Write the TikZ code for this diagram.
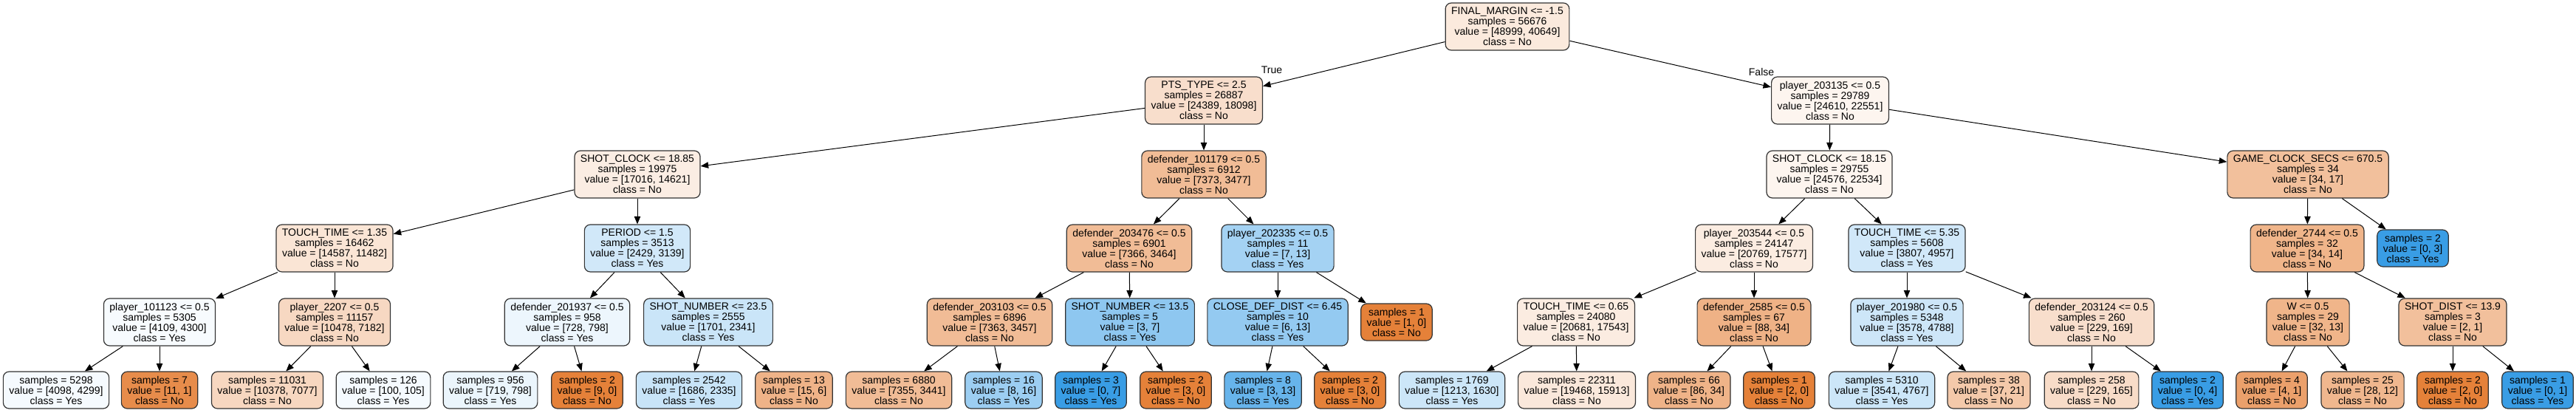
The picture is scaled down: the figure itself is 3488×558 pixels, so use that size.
\documentclass[tikz,border=0pt]{standalone}
\usepackage{fontspec}
\newfontfamily\hv{Liberation Sans}
\usetikzlibrary{arrows.meta}
\definecolor{cno}{RGB}{229,129,57}
\definecolor{cyes}{RGB}{57,157,229}
\tikzset{
  tn/.style={draw=black!80, line width=1.2pt, rounded corners=8pt, align=center,
    inner xsep=8pt, inner ysep=0pt, font=\hv\fontsize{14}{14}\selectfont},
  inode/.style={tn, minimum height=64pt},
  lnode/.style={tn, minimum height=50pt},
  N/.style={fill=cno!#1!white},
  Y/.style={fill=cyes!#1!white},
  conn/.style={-{Triangle[length=10.5pt,width=8.4pt]}, line width=1pt, black},
  lbl/.style={font=\hv\fontsize{14}{14}\selectfont, inner sep=0pt}
}
\begin{document}
\begin{tikzpicture}[x=1pt,y=-1pt]
\fill[white] (0,0) rectangle (3488,558);
\useasboundingbox (0,0) rectangle (3488,558);
% level 0
\node[inode,N=17] (n0) at (2041,36) {FINAL\_MARGIN <= -1.5\\samples = 56676\\value = [48999, 40649]\\class = No};
% level 1
\node[inode,N=26] (n1) at (1630,136) {PTS\_TYPE <= 2.5\\samples = 26887\\value = [24389, 18098]\\class = No};
\node[inode,N=8] (n2) at (2478,136) {player\_203135 <= 0.5\\samples = 29789\\value = [24610, 22551]\\class = No};
% level 2
\node[inode,N=14] (n3) at (863,236) {SHOT\_CLOCK <= 18.85\\samples = 19975\\value = [17016, 14621]\\class = No};
\node[inode,N=53] (n4) at (1630,236) {defender\_101179 <= 0.5\\samples = 6912\\value = [7373, 3477]\\class = No};
\node[inode,N=8] (n5) at (2477,236) {SHOT\_CLOCK <= 18.15\\samples = 29755\\value = [24576, 22534]\\class = No};
\node[inode,N=50] (n6) at (3125,236) {GAME\_CLOCK\_SECS <= 670.5\\samples = 34\\value = [34, 17]\\class = No};
% level 3
\node[inode,N=21] (n7) at (453,336) {TOUCH\_TIME <= 1.35\\samples = 16462\\value = [14587, 11482]\\class = No};
\node[inode,Y=23] (n8) at (863,336) {PERIOD <= 1.5\\samples = 3513\\value = [2429, 3139]\\class = Yes};
\node[inode,N=53] (n9) at (1529,336) {defender\_203476 <= 0.5\\samples = 6901\\value = [7366, 3464]\\class = No};
\node[inode,Y=46] (n10) at (1730,336) {player\_202335 <= 0.5\\samples = 11\\value = [7, 13]\\class = Yes};
\node[inode,N=15] (n11) at (2375,336) {player\_203544 <= 0.5\\samples = 24147\\value = [20769, 17577]\\class = No};
\node[inode,Y=23] (n12) at (2582,336) {TOUCH\_TIME <= 5.35\\samples = 5608\\value = [3807, 4957]\\class = Yes};
\node[inode,N=59] (n13) at (3124,336) {defender\_2744 <= 0.5\\samples = 32\\value = [34, 14]\\class = No};
\node[lnode,Y=100] (l14) at (3267,336) {samples = 2\\value = [0, 3]\\class = Yes};
% level 4
\node[inode,Y=4] (n15) at (216,436) {player\_101123 <= 0.5\\samples = 5305\\value = [4109, 4300]\\class = Yes};
\node[inode,N=31] (n16) at (453,436) {player\_2207 <= 0.5\\samples = 11157\\value = [10478, 7182]\\class = No};
\node[inode,Y=9] (n17) at (768,436) {defender\_201937 <= 0.5\\samples = 958\\value = [728, 798]\\class = Yes};
\node[inode,Y=27] (n18) at (959,436) {SHOT\_NUMBER <= 23.5\\samples = 2555\\value = [1701, 2341]\\class = Yes};
\node[inode,N=53] (n19) at (1340,436) {defender\_203103 <= 0.5\\samples = 6896\\value = [7363, 3457]\\class = No};
\node[inode,Y=57] (n20) at (1530,436) {SHOT\_NUMBER <= 13.5\\samples = 5\\value = [3, 7]\\class = Yes};
\node[inode,Y=54] (n21) at (1730,436) {CLOSE\_DEF\_DIST <= 6.45\\samples = 10\\value = [6, 13]\\class = Yes};
\node[lnode,N=100] (l22) at (1891,436) {samples = 1\\value = [1, 0]\\class = No};
\node[inode,N=15] (n23) at (2134,436) {TOUCH\_TIME <= 0.65\\samples = 24080\\value = [20681, 17543]\\class = No};
\node[inode,N=61] (n24) at (2375,436) {defender\_2585 <= 0.5\\samples = 67\\value = [88, 34]\\class = No};
\node[inode,Y=25] (n25) at (2582,436) {player\_201980 <= 0.5\\samples = 5348\\value = [3578, 4788]\\class = Yes};
\node[inode,N=26] (n26) at (2832,436) {defender\_203124 <= 0.5\\samples = 260\\value = [229, 169]\\class = No};
\node[inode,N=59] (n27) at (3125,436) {W <= 0.5\\samples = 29\\value = [32, 13]\\class = No};
\node[inode,N=50] (n28) at (3321,436) {SHOT\_DIST <= 13.9\\samples = 3\\value = [2, 1]\\class = No};
% level 5 leaves
\node[lnode,Y=5] (a1) at (76,528) {samples = 5298\\value = [4098, 4299]\\class = Yes};
\node[lnode,N=91] (a2) at (216,528) {samples = 7\\value = [11, 1]\\class = No};
\node[lnode,N=32] (a3) at (362,528) {samples = 11031\\value = [10378, 7077]\\class = No};
\node[lnode,Y=5] (a4) at (519,528) {samples = 126\\value = [100, 105]\\class = Yes};
\node[lnode,Y=10] (a5) at (664,528) {samples = 956\\value = [719, 798]\\class = Yes};
\node[lnode,N=100] (a6) at (795,528) {samples = 2\\value = [9, 0]\\class = No};
\node[lnode,Y=28] (a7) at (933,528) {samples = 2542\\value = [1686, 2335]\\class = Yes};
\node[lnode,N=60] (a8) at (1075,528) {samples = 13\\value = [15, 6]\\class = No};
\node[lnode,N=53] (a9) at (1217,528) {samples = 6880\\value = [7355, 3441]\\class = No};
\node[lnode,Y=50] (a10) at (1359,528) {samples = 16\\value = [8, 16]\\class = Yes};
\node[lnode,Y=100] (a11) at (1477,528) {samples = 3\\value = [0, 7]\\class = Yes};
\node[lnode,N=100] (a12) at (1592,528) {samples = 2\\value = [3, 0]\\class = No};
\node[lnode,Y=77] (a13) at (1710,528) {samples = 8\\value = [3, 13]\\class = Yes};
\node[lnode,N=100] (a14) at (1828,528) {samples = 2\\value = [3, 0]\\class = No};
\node[lnode,Y=26] (a15) at (1966,528) {samples = 1769\\value = [1213, 1630]\\class = Yes};
\node[lnode,N=18] (a16) at (2135,528) {samples = 22311\\value = [19468, 15913]\\class = No};
\node[lnode,N=60] (a17) at (2287,528) {samples = 66\\value = [86, 34]\\class = No};
\node[lnode,N=100] (a18) at (2409,528) {samples = 1\\value = [2, 0]\\class = No};
\node[lnode,Y=26] (a19) at (2548,528) {samples = 5310\\value = [3541, 4767]\\class = Yes};
\node[lnode,N=43] (a20) at (2693,528) {samples = 38\\value = [37, 21]\\class = No};
\node[lnode,N=28] (a21) at (2832,528) {samples = 258\\value = [229, 165]\\class = No};
\node[lnode,Y=100] (a22) at (2962,528) {samples = 2\\value = [0, 4]\\class = Yes};
\node[lnode,N=75] (a23) at (3076,528) {samples = 4\\value = [4, 1]\\class = No};
\node[lnode,N=57] (a24) at (3199,528) {samples = 25\\value = [28, 12]\\class = No};
\node[lnode,N=100] (a25) at (3321,528) {samples = 2\\value = [2, 0]\\class = No};
\node[lnode,Y=100] (a26) at (3436,528) {samples = 1\\value = [0, 1]\\class = Yes};
% edge labels
\node[lbl] (tl) at (1722,95) {True};
\node[lbl] (fl) at (2385,97) {False};
% edges
\draw[conn] (n0) -- (n1);
\draw[conn] (n0) -- (n2);
\draw[conn] (n1) -- (n3);
\draw[conn] (n1) -- (n4);
\draw[conn] (n2) -- (n5);
\draw[conn] (n2) -- (n6);
\draw[conn] (n3) -- (n7);
\draw[conn] (n3) -- (n8);
\draw[conn] (n4) -- (n9);
\draw[conn] (n4) -- (n10);
\draw[conn] (n5) -- (n11);
\draw[conn] (n5) -- (n12);
\draw[conn] (n6) -- (n13);
\draw[conn] (n6) -- (l14);
\draw[conn] (n7) -- (n15);
\draw[conn] (n7) -- (n16);
\draw[conn] (n8) -- (n17);
\draw[conn] (n8) -- (n18);
\draw[conn] (n9) -- (n19);
\draw[conn] (n9) -- (n20);
\draw[conn] (n10) -- (n21);
\draw[conn] (n10) -- (l22);
\draw[conn] (n11) -- (n23);
\draw[conn] (n11) -- (n24);
\draw[conn] (n12) -- (n25);
\draw[conn] (n12) -- (n26);
\draw[conn] (n13) -- (n27);
\draw[conn] (n13) -- (n28);
\draw[conn] (n15) -- (a1);
\draw[conn] (n15) -- (a2);
\draw[conn] (n16) -- (a3);
\draw[conn] (n16) -- (a4);
\draw[conn] (n17) -- (a5);
\draw[conn] (n17) -- (a6);
\draw[conn] (n18) -- (a7);
\draw[conn] (n18) -- (a8);
\draw[conn] (n19) -- (a9);
\draw[conn] (n19) -- (a10);
\draw[conn] (n20) -- (a11);
\draw[conn] (n20) -- (a12);
\draw[conn] (n21) -- (a13);
\draw[conn] (n21) -- (a14);
\draw[conn] (n23) -- (a15);
\draw[conn] (n23) -- (a16);
\draw[conn] (n24) -- (a17);
\draw[conn] (n24) -- (a18);
\draw[conn] (n25) -- (a19);
\draw[conn] (n25) -- (a20);
\draw[conn] (n26) -- (a21);
\draw[conn] (n26) -- (a22);
\draw[conn] (n27) -- (a23);
\draw[conn] (n27) -- (a24);
\draw[conn] (n28) -- (a25);
\draw[conn] (n28) -- (a26);
\end{tikzpicture}
\end{document}
